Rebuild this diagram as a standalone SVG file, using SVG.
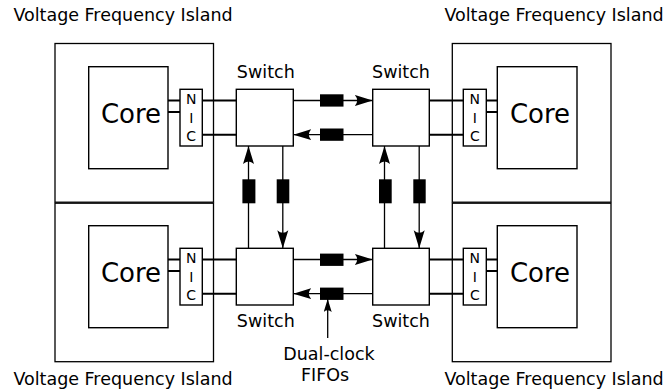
<svg xmlns="http://www.w3.org/2000/svg" width="671" height="391" viewBox="0 0 671 391">
<style>
  .vfi{fill:none;stroke:#000;stroke-width:1.3}
  .box{fill:#fff;stroke:#000;stroke-width:1.4}
  .wire{stroke:#000;stroke-width:2;fill:none}
  .link{stroke:#000;stroke-width:1.3;fill:none;marker-end:url(#ah)}
  .fifo{fill:#000;stroke:none}
  text{font-family:"DejaVu Sans","Liberation Sans",sans-serif;fill:#000}
  .lbl{font-size:17.5px}
  .core{font-size:26px;text-anchor:middle}
  .nic{font-size:14px;text-anchor:middle}
  .mid{text-anchor:middle}
</style>
<defs>
  <marker id="ah" viewBox="0 -6 18 12" markerWidth="18" markerHeight="12" refX="18" refY="0" orient="auto" markerUnits="userSpaceOnUse">
    <path d="M18,0 L0,-5.5 Q5,0 0,5.5 Z" fill="#000"/>
  </marker>
  <marker id="ahs" viewBox="0 -4 13 8" markerWidth="13" markerHeight="8" refX="13" refY="0" orient="auto" markerUnits="userSpaceOnUse">
    <path d="M13,0 L0,-4 Q3.5,0 0,4 Z" fill="#000"/>
  </marker>
</defs>
<rect width="671" height="391" fill="#fff"/>

<g id="vfi-tl"><rect class="vfi" x="55" y="43.5" width="158.5" height="158.7"/><text class="lbl mid" x="123" y="20.5">Voltage Frequency Island</text></g>
<g id="vfi-tr"><rect class="vfi" x="452.3" y="43.5" width="158.7" height="158.7"/><text class="lbl mid" x="554" y="20.5">Voltage Frequency Island</text></g>
<g id="vfi-bl"><rect class="vfi" x="55" y="203.2" width="158.5" height="158.5"/><text class="lbl mid" x="123" y="385">Voltage Frequency Island</text></g>
<g id="vfi-br"><rect class="vfi" x="452.3" y="203.2" width="158.7" height="158.5"/><text class="lbl mid" x="554" y="385">Voltage Frequency Island</text></g>

<g id="wires">
  <path class="wire" d="M168,100.5H180M168,112H180M202.3,100.5H236.3M202.3,134.7H236.3"/>
  <path class="wire" d="M486.3,100.5H497.3M486.3,112H497.3M429.3,100.5H463.3M429.3,134.7H463.3"/>
  <path class="wire" d="M168,259.5H180M168,271H180M202.3,259.5H236.3M202.3,293.7H236.3"/>
  <path class="wire" d="M486.3,259.5H497.3M486.3,271H497.3M429.3,259.5H463.3M429.3,293.7H463.3"/>
</g>

<g id="core-tl"><rect class="box" x="88.7" y="66.7" width="79.3" height="102"/><text class="core" x="131" y="123">Core</text></g>
<g id="core-tr"><rect class="box" x="497.3" y="66.7" width="79.7" height="102"/><text class="core" x="540" y="123">Core</text></g>
<g id="core-bl"><rect class="box" x="88.7" y="225.7" width="79.3" height="102"/><text class="core" x="131" y="282">Core</text></g>
<g id="core-br"><rect class="box" x="497.3" y="225.7" width="79.7" height="102"/><text class="core" x="540" y="282">Core</text></g>

<g id="nic-tl"><rect class="box" x="180" y="89.3" width="22.3" height="56.7"/><text class="nic" x="191.2" y="104.3">N</text><text class="nic" x="191.2" y="122.7">I</text><text class="nic" x="191.2" y="141">C</text></g>
<g id="nic-tr"><rect class="box" x="463.3" y="89.3" width="23" height="56.7"/><text class="nic" x="474.8" y="104.3">N</text><text class="nic" x="474.8" y="122.7">I</text><text class="nic" x="474.8" y="141">C</text></g>
<g id="nic-bl"><rect class="box" x="180" y="248.3" width="22.3" height="56.7"/><text class="nic" x="191.2" y="263.3">N</text><text class="nic" x="191.2" y="281.7">I</text><text class="nic" x="191.2" y="300">C</text></g>
<g id="nic-br"><rect class="box" x="463.3" y="248.3" width="23" height="56.7"/><text class="nic" x="474.8" y="263.3">N</text><text class="nic" x="474.8" y="281.7">I</text><text class="nic" x="474.8" y="300">C</text></g>

<g id="switch-tl"><rect class="box" x="236.3" y="89.3" width="57" height="56.7"/><text class="lbl mid" x="265.8" y="78">Switch</text></g>
<g id="switch-tr"><rect class="box" x="372.7" y="89.3" width="56.6" height="56.7"/><text class="lbl mid" x="401" y="78">Switch</text></g>
<g id="switch-bl"><rect class="box" x="236.3" y="248.3" width="57" height="56.7"/><text class="lbl mid" x="265.8" y="327">Switch</text></g>
<g id="switch-br"><rect class="box" x="372.7" y="248.3" width="56.6" height="56.7"/><text class="lbl mid" x="401" y="327">Switch</text></g>

<g id="connectors">
  <line class="link" x1="293.3" y1="100.5" x2="372.7" y2="100.5"/>
  <line class="link" x1="372.7" y1="134.7" x2="293.3" y2="134.7"/>
  <line class="link" x1="293.3" y1="259.5" x2="372.7" y2="259.5"/>
  <line class="link" x1="372.7" y1="293.7" x2="293.3" y2="293.7"/>
  <line class="link" x1="248.5" y1="248.3" x2="248.5" y2="146"/>
  <line class="link" x1="282.8" y1="146" x2="282.8" y2="248.3"/>
  <line class="link" x1="384.5" y1="248.3" x2="384.5" y2="146"/>
  <line class="link" x1="419.2" y1="146" x2="419.2" y2="248.3"/>
  <line x1="327.7" y1="338" x2="327.7" y2="299" stroke="#000" stroke-width="1.3" marker-end="url(#ahs)"/>
</g>

<g id="fifos">
  <rect class="fifo" x="320" y="94.3" width="23.5" height="12.3"/>
  <rect class="fifo" x="320" y="128.5" width="23.5" height="12.3"/>
  <rect class="fifo" x="320" y="253.6" width="23.5" height="12.3"/>
  <rect class="fifo" x="320" y="287.6" width="23.5" height="12.3"/>
  <rect class="fifo" x="242.4" y="179.3" width="13" height="24"/>
  <rect class="fifo" x="276.7" y="179.3" width="12.6" height="24"/>
  <rect class="fifo" x="379" y="179.3" width="12.7" height="24"/>
  <rect class="fifo" x="413.3" y="179.3" width="12.4" height="24"/>
</g>

<g id="fifo-label">
  <text class="lbl mid" x="329" y="360">Dual-clock</text>
  <text class="lbl mid" x="325" y="380.7">FIFOs</text>
</g>
</svg>
